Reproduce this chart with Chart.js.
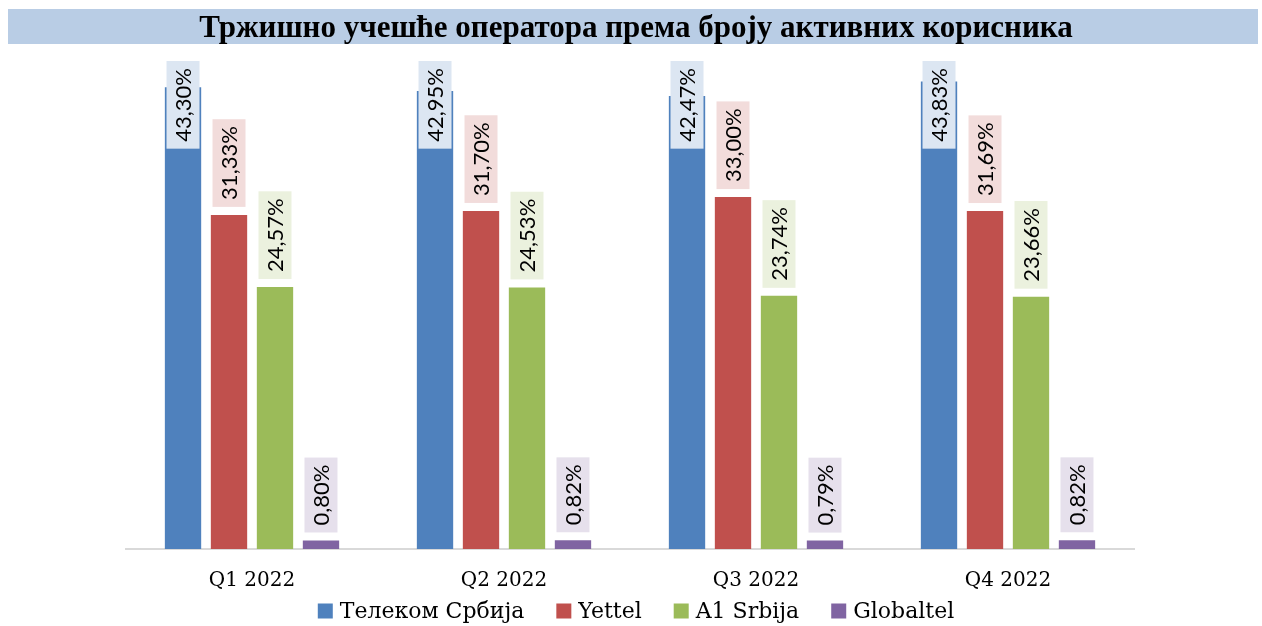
<!DOCTYPE html>
<html>
<head>
<meta charset="utf-8">
<script src="https://cdn.jsdelivr.net/npm/chart.js@4/dist/chart.umd.min.js"></script>
<style>
  html, body { margin: 0; padding: 0; background: #fff; }
  #wrap { position: relative; width: 1262px; height: 626px; }
</style>
</head>
<body>
<div id="wrap"><canvas id="chart" width="1262" height="626"></canvas></div>
<script>
var title = "Тржишно учешће оператора према броју активних корисника";
var quarters = ["Q1 2022", "Q2 2022", "Q3 2022", "Q4 2022"];
var operators = ["Телеком Србија", "Yettel", "A1 Srbija", "Globaltel"];
var telekom = [43.30, 42.95, 42.47, 43.83];
var yettel = [31.33, 31.70, 33.00, 31.69];
var a1 = [24.57, 24.53, 23.74, 23.66];
var globaltel = [0.80, 0.82, 0.79, 0.82];

var barColors = ["#4F81BD", "#C0504D", "#9BBB59", "#8064A2"];
var labelFills = ["#DCE6F2", "#F2DCDB", "#EBF1DE", "#E6E0EC"];
var serif = "'DejaVu Serif', serif";

function fmt(v) {
  return v.toFixed(2).replace(".", ",") + "%";
}

// title band over the top of the canvas
var titlePlugin = {
  id: "titleBand",
  afterDraw: function (chart) {
    var ctx = chart.ctx;
    ctx.save();
    ctx.fillStyle = "#B9CDE5";
    ctx.fillRect(8, 9, 1250, 35);
    ctx.fillStyle = "#000";
    ctx.font = "bold 31px 'Liberation Serif', serif";
    ctx.textAlign = "center";
    ctx.textBaseline = "middle";
    ctx.fillText(title, 636, 29);
    ctx.restore();
  }
};

// rotated value labels in tinted boxes above each bar
var valueLabels = {
  id: "valueLabels",
  afterDatasetsDraw: function (chart) {
    var ctx = chart.ctx;
    var top = chart.chartArea.top;
    ctx.save();
    ctx.font = "22px Lato, sans-serif";
    chart.data.datasets.forEach(function (ds, di) {
      var meta = chart.getDatasetMeta(di);
      meta.data.forEach(function (bar, i) {
        var text = fmt(ds.data[i]);
        var tw = ctx.measureText(text).width;
        var h = tw + 14;
        var w = 33;
        var bottom = bar.y - 8;
        var y0 = bottom - h;
        if (y0 < top) y0 = top;
        ctx.fillStyle = labelFills[di];
        ctx.fillRect(bar.x - w / 2, y0, w, h);
        ctx.save();
        ctx.translate(bar.x, y0 + h / 2);
        ctx.rotate(-Math.PI / 2);
        ctx.fillStyle = "#000";
        ctx.textAlign = "center";
        ctx.textBaseline = "middle";
        ctx.fillText(text, 0, 1);
        ctx.restore();
      });
    });
    ctx.restore();
  }
};

// legend row under the axis labels
var legendRow = {
  id: "legendRow",
  afterDraw: function (chart) {
    var ctx = chart.ctx;
    var box = 15, gapText = 7, gapItem = 32, y = 611;
    ctx.save();
    ctx.font = "22px " + serif;
    var widths = operators.map(function (t) { return ctx.measureText(t).width; });
    var total = 0;
    widths.forEach(function (w) { total += box + gapText + w; });
    total += gapItem * (operators.length - 1);
    var x = 636 - total / 2;
    ctx.textBaseline = "middle";
    operators.forEach(function (t, i) {
      ctx.fillStyle = barColors[i];
      ctx.fillRect(x, y - box / 2, box, box);
      ctx.fillStyle = "#000";
      ctx.fillText(t, x + box + gapText, y + 1);
      x += box + gapText + widths[i] + gapItem;
    });
    ctx.restore();
  }
};

var series = [telekom, yettel, a1, globaltel];
var datasets = operators.map(function (name, i) {
  return {
    label: name,
    data: series[i],
    backgroundColor: barColors[i],
    borderWidth: 0,
    barPercentage: 0.79,
    categoryPercentage: 0.73
  };
});

new Chart(document.getElementById("chart"), {
  type: "bar",
  data: { labels: quarters, datasets: datasets },
  plugins: [valueLabels, titlePlugin, legendRow],
  options: {
    responsive: false,
    animation: false,
    layout: { padding: { left: 126, right: 128, top: 61, bottom: 13 } },
    plugins: {
      legend: { display: false },
      title: { display: false },
      tooltip: { enabled: false }
    },
    scales: {
      x: {
        grid: { display: false, drawTicks: false },
        border: { display: true, color: "#D9D9D9", width: 2 },
        ticks: {
          color: "#000",
          padding: 20,
          font: { family: serif, size: 20 }
        }
      },
      y: {
        display: false,
        min: 0,
        max: 45.76
      }
    }
  }
});
</script>
</body>
</html>
